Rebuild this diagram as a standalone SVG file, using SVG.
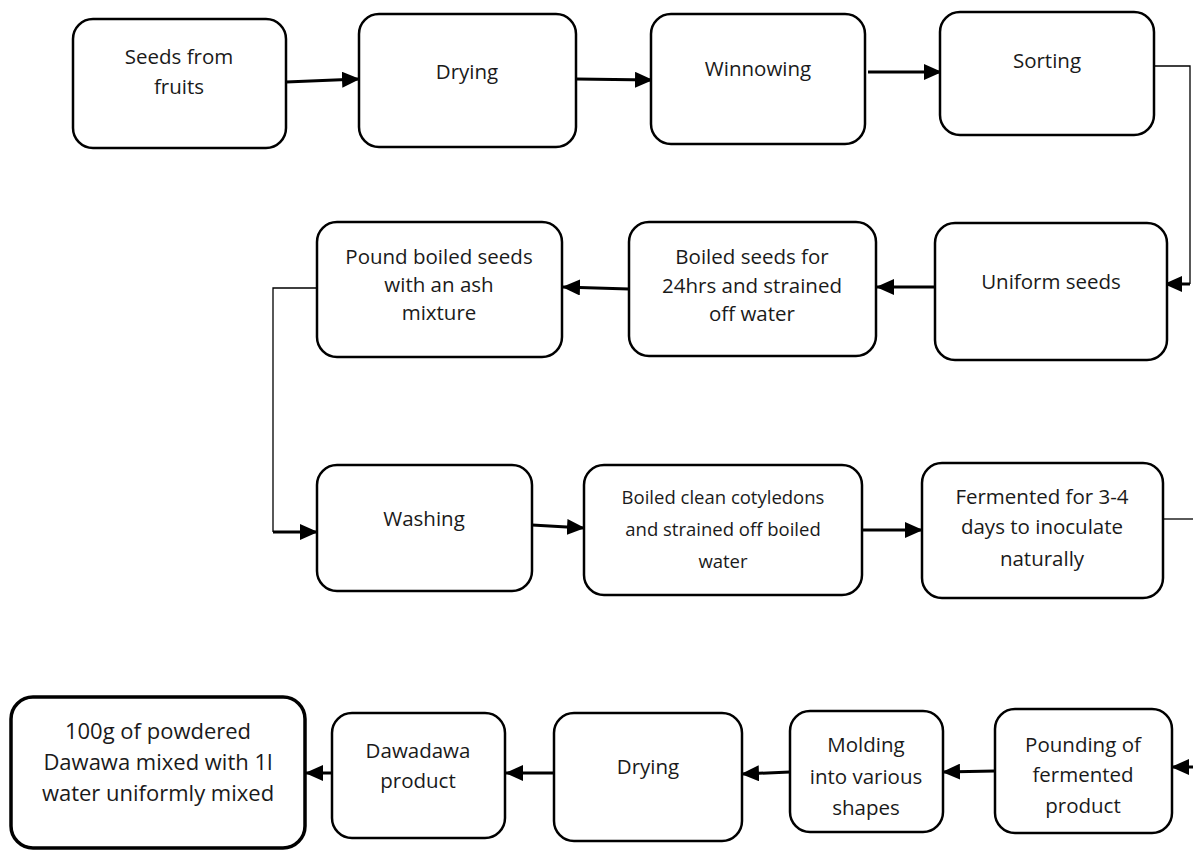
<svg xmlns="http://www.w3.org/2000/svg" width="1193" height="852" viewBox="0 0 1193 852">
<defs>
<marker id="ah" markerUnits="userSpaceOnUse" markerWidth="18" markerHeight="16" refX="17" refY="8" orient="auto">
<path d="M0,0 L18,8 L0,16 Z" fill="#000"/>
</marker>
<style>
.box{fill:#fff;stroke:#000;stroke-width:2.5}
.thick{stroke-width:3.5}
.t{font-family:"Open Sans","Liberation Sans",sans-serif;font-size:20.5px;fill:#1a1a1a;text-anchor:middle}
.s{font-size:18.5px}
.l{font-size:22px}
.c{fill:none;stroke:#000;stroke-width:3}
.thin{fill:none;stroke:#000;stroke-width:1.3}
</style>
</defs>
<rect width="1193" height="852" fill="#fff"/>
<g id="connectors">
<line class="c" x1="286" y1="82" x2="359" y2="79" marker-end="url(#ah)"/>
<line class="c" x1="576" y1="79" x2="652" y2="80" marker-end="url(#ah)"/>
<line class="c" x1="868" y1="72" x2="941" y2="72" marker-end="url(#ah)"/>
<polyline class="thin" points="1155,66 1190,66 1190,284"/>
<line class="c" x1="1190" y1="284" x2="1165" y2="284" marker-end="url(#ah)"/>
<line class="c" x1="935" y1="287" x2="877" y2="287" marker-end="url(#ah)"/>
<line class="c" x1="629" y1="289" x2="563" y2="287" marker-end="url(#ah)"/>
<polyline class="thin" points="317,288 273,288 273,532"/>
<line class="c" x1="273" y1="532" x2="317" y2="532" marker-end="url(#ah)"/>
<line class="c" x1="532" y1="525" x2="584" y2="528" marker-end="url(#ah)"/>
<line class="c" x1="862" y1="530" x2="922" y2="530" marker-end="url(#ah)"/>
<line class="thin" x1="1163" y1="519" x2="1193" y2="519"/>
<line class="c" x1="1193" y1="767" x2="1172" y2="767" marker-end="url(#ah)"/>
<line class="c" x1="995" y1="771" x2="943" y2="772" marker-end="url(#ah)"/>
<line class="c" x1="790" y1="772" x2="742" y2="774" marker-end="url(#ah)"/>
<line class="c" x1="554" y1="773" x2="506" y2="773" marker-end="url(#ah)"/>
<line class="c" x1="332" y1="773" x2="306" y2="773" marker-end="url(#ah)"/>
</g>
<g id="n1"><rect class="box" x="73" y="19" width="213" height="129" rx="20"/>
<text class="t" x="179" y="64">Seeds from</text><text class="t" x="179" y="94">fruits</text></g>
<g id="n2"><rect class="box" x="359" y="14" width="217" height="133" rx="20"/>
<text class="t" x="467" y="79">Drying</text></g>
<g id="n3"><rect class="box" x="651" y="14" width="214" height="130" rx="20"/>
<text class="t" x="758" y="76">Winnowing</text></g>
<g id="n4"><rect class="box" x="940" y="12" width="214" height="123" rx="20"/>
<text class="t" x="1047" y="68">Sorting</text></g>
<g id="n5"><rect class="box" x="935" y="223" width="232" height="137" rx="20"/>
<text class="t" x="1051" y="289">Uniform seeds</text></g>
<g id="n6"><rect class="box" x="629" y="222" width="247" height="134" rx="20"/>
<text class="t" x="752" y="264">Boiled seeds for</text><text class="t" x="752" y="293">24hrs and strained</text><text class="t" x="752" y="321">off water</text></g>
<g id="n7"><rect class="box" x="317" y="222" width="245" height="135" rx="20"/>
<text class="t" x="439" y="264">Pound boiled seeds</text><text class="t" x="439" y="292">with an ash</text><text class="t" x="439" y="320">mixture</text></g>
<g id="n8"><rect class="box" x="317" y="465" width="215" height="126" rx="20"/>
<text class="t" x="424" y="526">Washing</text></g>
<g id="n9"><rect class="box" x="584" y="465" width="278" height="130" rx="20"/>
<text class="t s" x="723" y="504">Boiled clean cotyledons</text><text class="t s" x="723" y="536">and strained off boiled</text><text class="t s" x="723" y="568">water</text></g>
<g id="n10"><rect class="box" x="922" y="463" width="241" height="135" rx="20"/>
<text class="t" x="1042" y="504">Fermented for 3-4</text><text class="t" x="1042" y="534">days to inoculate</text><text class="t" x="1042" y="566">naturally</text></g>
<g id="n11"><rect class="box" x="995" y="709" width="177" height="124" rx="20"/>
<text class="t" x="1083" y="752">Pounding of</text><text class="t" x="1083" y="782">fermented</text><text class="t" x="1083" y="813">product</text></g>
<g id="n12"><rect class="box" x="790" y="711" width="153" height="121" rx="20"/>
<text class="t" x="866" y="752">Molding</text><text class="t" x="866" y="784">into various</text><text class="t" x="866" y="815">shapes</text></g>
<g id="n13"><rect class="box" x="554" y="713" width="188" height="128" rx="20"/>
<text class="t" x="648" y="774">Drying</text></g>
<g id="n14"><rect class="box" x="332" y="713" width="173" height="125" rx="20"/>
<text class="t" x="418" y="758">Dawadawa</text><text class="t" x="418" y="788">product</text></g>
<g id="n15"><rect class="box thick" x="11" y="697" width="294" height="151" rx="22"/>
<text class="t l" x="158" y="739">100g of powdered</text><text class="t l" x="158" y="770">Dawawa mixed with 1l</text><text class="t l" x="158" y="801">water uniformly mixed</text></g>
</svg>
